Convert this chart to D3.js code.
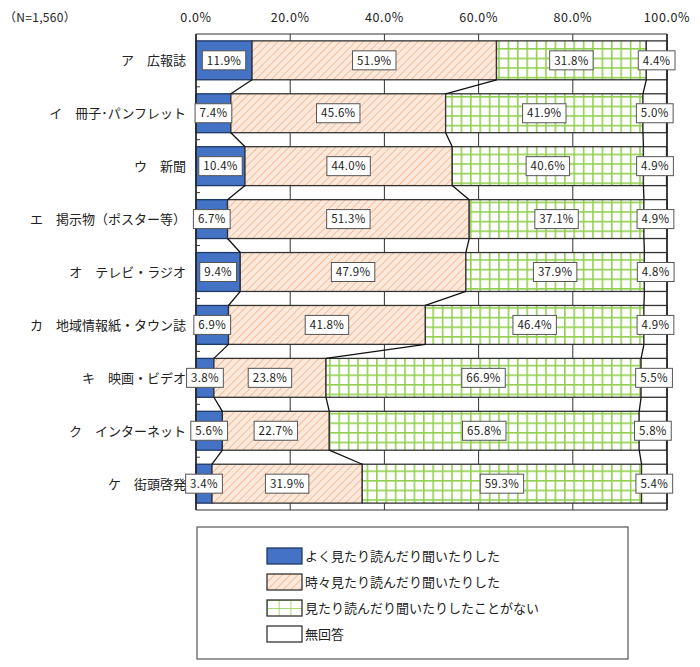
<!DOCTYPE html>
<html><head><meta charset="utf-8">
<script src="https://cdn.jsdelivr.net/npm/d3@7"></script>
<style>
body{margin:0;background:#fff;}
svg{display:block;font-family:"Noto Sans CJK JP","Noto Sans",sans-serif;}
</style></head>
<body><svg id="c" width="700" height="667"></svg>
<script>
const categories = ["ア　広報誌","イ　冊子･パンフレット","ウ　新聞","エ　掲示物（ポスター等）","オ　テレビ・ラジオ","カ　地域情報紙・タウン誌","キ　映画・ビデオ","ク　インターネット","ケ　街頭啓発"];
const often = [11.9,7.4,10.4,6.7,9.4,6.9,3.8,5.6,3.4];
const sometimes = [51.9,45.6,44.0,51.3,47.9,41.8,23.8,22.7,31.9];
const never = [31.8,41.9,40.6,37.1,37.9,46.4,66.9,65.8,59.3];
const noAnswer = [4.4,5.0,4.9,4.9,4.8,4.9,5.5,5.8,5.4];
const seriesNames = ["よく見たり読んだり聞いたりした","時々見たり読んだり聞いたりした","見たり読んだり聞いたりしたことがない","無回答"];
const tickValues = [0,20,40,60,80,100];
const sampleNote = "（N=1,560）";

const series = [often, sometimes, never, noAnswer];
const fills = ["#4472c4","url(#hatch)","url(#grid)","#ffffff"];

const svg = d3.select("#c");
const defs = svg.append("defs");
const hatch = defs.append("pattern").attr("id","hatch").attr("patternUnits","userSpaceOnUse")
  .attr("width",5.5).attr("height",5.5).attr("patternTransform","rotate(45)");
hatch.append("rect").attr("width",5.5).attr("height",5.5).attr("fill","#fde9db");
hatch.append("line").attr("x1",0).attr("y1",0).attr("x2",0).attr("y2",5.5).attr("stroke","#f3b993").attr("stroke-width",1.8);
const grid = defs.append("pattern").attr("id","grid").attr("patternUnits","userSpaceOnUse")
  .attr("width",9.4).attr("height",9.6);
grid.append("rect").attr("width",9.4).attr("height",9.6).attr("fill","#fff");
grid.append("line").attr("x1",0.8).attr("y1",0).attr("x2",0.8).attr("y2",9.6).attr("stroke","#92d050").attr("stroke-width",1.6);
grid.append("line").attr("x1",0).attr("y1",0.8).attr("x2",9.4).attr("y2",0.8).attr("stroke","#92d050").attr("stroke-width",1.6);
const grid2 = defs.append("pattern").attr("id","grid2").attr("patternUnits","userSpaceOnUse")
  .attr("width",11.7).attr("height",8);
grid2.append("rect").attr("width",11.7).attr("height",8).attr("fill","#fff");
grid2.append("line").attr("x1",0).attr("y1",0).attr("x2",0).attr("y2",8).attr("stroke","#92d050").attr("stroke-width",1.6);
grid2.append("line").attr("x1",0).attr("y1",0).attr("x2",11.7).attr("y2",0).attr("stroke","#92d050").attr("stroke-width",1.6);

const x = d3.scaleLinear().domain([0,100]).range([196,667]);
const y = d3.scaleBand().domain(categories).range([34,510]).paddingInner(0.265).paddingOuter(0.13);

// gridlines
svg.append("g").selectAll("line").data(tickValues).join("line")
  .attr("x1",d=>x(d)).attr("x2",d=>x(d)).attr("y1",34).attr("y2",510)
  .attr("stroke","#333").attr("stroke-width",1);
svg.append("line").attr("x1",x(0)).attr("x2",x(100)).attr("y1",34).attr("y2",34).attr("stroke","#333").attr("stroke-width",1.2);
svg.append("line").attr("x1",x(0)).attr("x2",x(100)).attr("y1",510).attr("y2",510).attr("stroke","#333").attr("stroke-width",1.2);

const stackData = categories.map((c,i)=>{
  let acc=0; const segs=[];
  series.forEach((s,k)=>{ segs.push({k, x0:acc, x1:acc+s[i], v:s[i]}); acc+=s[i]; });
  return {c,i,segs};
});

const gBars = svg.append("g");
stackData.forEach(row=>{
  row.segs.forEach(s=>{
    gBars.append("rect").attr("x",x(s.x0)).attr("y",y(row.c)).attr("width",x(s.x1)-x(s.x0)).attr("height",y.bandwidth())
      .attr("fill",fills[s.k]).attr("stroke",s.k===0?"#1f3864":"#333").attr("stroke-width",1.3);
  });
});
svg.append("line").attr("x1",x(0)).attr("x2",x(0)).attr("y1",34).attr("y2",510).attr("stroke","#222").attr("stroke-width",1.5);
svg.append("line").attr("x1",x(100)).attr("x2",x(100)).attr("y1",34).attr("y2",510).attr("stroke","#222").attr("stroke-width",1.5);
const bounds = categories.slice(1).map(c=>y(c)-y.step()*y.paddingInner()/2);
svg.append("g").selectAll("line").data(bounds).join("line")
  .attr("x1",x(0)).attr("x2",x(0)+4).attr("y1",d=>d).attr("y2",d=>d).attr("stroke","#333");

const gConn = svg.append("g");
for(let i=0;i<stackData.length-1;i++){
  for(let k=0;k<3;k++){
    gConn.append("line")
      .attr("x1",x(stackData[i].segs[k].x1)).attr("y1",y(categories[i])+y.bandwidth())
      .attr("x2",x(stackData[i+1].segs[k].x1)).attr("y2",y(categories[i+1]))
      .attr("stroke","#111").attr("stroke-width",1.3);
  }
}

const gLab = svg.append("g");
stackData.forEach(row=>{
  row.segs.forEach(s=>{
    const cx = (x(s.x0)+x(s.x1))/2, cy = y(row.c)+y.bandwidth()/2;
    const g = gLab.append("g");
    const r = g.append("rect");
    const t = g.append("text").attr("x",cx).attr("y",cy+4.2).attr("text-anchor","middle")
      .attr("font-size",11.5).attr("letter-spacing",0.3).attr("fill","#222").text(s.v.toFixed(1)+"%");
    const w = t.node().getComputedTextLength()+9;
    r.attr("x",cx-w/2).attr("y",cy-9.5).attr("width",w).attr("height",19)
      .attr("fill","#fff").attr("stroke","#555").attr("stroke-width",1);
  });
});

svg.append("g").selectAll("text").data(categories).join("text")
  .attr("x",186).attr("y",d=>y(d)+y.bandwidth()/2+5).attr("text-anchor","end")
  .attr("font-size",13).attr("fill","#222").text(d=>d);

svg.append("g").selectAll("text").data(tickValues).join("text")
  .attr("x",d=>x(d)).attr("y",22).attr("text-anchor","middle").attr("font-size",12.5).attr("letter-spacing",0.6).attr("fill","#222")
  .text(d=>d.toFixed(1)+"%");
svg.append("text").attr("x",4).attr("y",22).attr("font-size",12).attr("letter-spacing",0.3).attr("fill","#222").text(sampleNote);

svg.append("rect").attr("x",197).attr("y",527).attr("width",431).attr("height",132)
  .attr("fill","#fff").attr("stroke","#555").attr("stroke-width",1.2);
const legFills = ["#4472c4","url(#hatch)","url(#grid2)","#fff"];
const lg = svg.append("g").selectAll("g").data(seriesNames).join("g")
  .attr("transform",(d,i)=>`translate(267,${548+i*26})`);
lg.append("rect").attr("width",35).attr("height",16).attr("fill",(d,i)=>legFills[i])
  .attr("stroke",(d,i)=>i===0?"#1f3864":"#333").attr("stroke-width",1.3);
lg.append("text").attr("x",38).attr("y",13).attr("font-size",13).attr("fill","#222").text(d=>d);
</script></body></html>
